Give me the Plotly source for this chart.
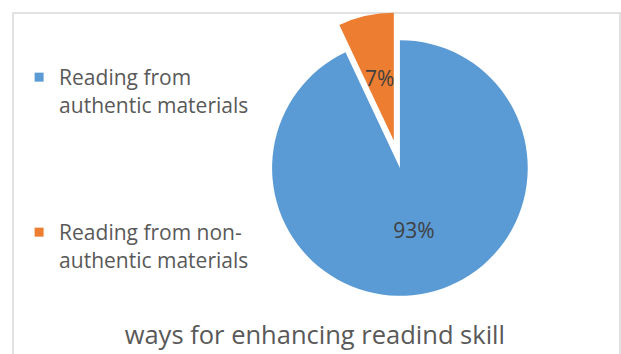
import math
import plotly.graph_objects as go

categories = ["Reading from authentic materials", "Reading from non-authentic materials"]
legend_labels = ["Reading from<br>authentic materials", "Reading from non-<br>authentic materials"]
values = [93, 7]
colors = ["#5B9BD5", "#ED7D31"]
pulls = [0, 0.22]
title_text = "ways for enhancing readind skill"

W, H = 621, 354
FONT = "Open Sans"
DOM_X = [0.39, 0.898]
DOM_Y = [0.085, 0.966]

fig = go.Figure()

fig.add_trace(go.Pie(
    labels=categories,
    values=values,
    marker=dict(colors=colors, line=dict(width=0)),
    sort=False,
    direction="clockwise",
    rotation=0,
    pull=pulls,
    texttemplate="%{percent:.0%}",
    textposition=["inside", "none"],
    insidetextorientation="horizontal",
    textfont=dict(family=FONT, size=21, color="#404040"),
    domain=dict(x=DOM_X, y=DOM_Y),
    showlegend=False,
    hoverinfo="label+percent",
))

# label for the thin pulled slice, placed at mid-radius along its bisector
total = sum(values)
cx = (DOM_X[0] + DOM_X[1]) / 2 * W
box_h = (DOM_Y[1] - DOM_Y[0]) * H
cy_top = (1 - DOM_Y[1]) * H + box_h / 2
r = box_h / (2 * (1 + max(pulls)))
start = sum(values[:1]) / total
mid = (start + values[1] / total / 2) * 2 * math.pi
d = pulls[1] * r + 0.5 * r
lx = cx + math.sin(mid) * d
ly = cy_top - math.cos(mid) * d
annotations = [dict(
    text=f"{round(100 * values[1] / total)}%", x=lx / W, y=1 - ly / H,
    xref="paper", yref="paper", showarrow=False,
    xanchor="center", yanchor="middle",
    font=dict(family=FONT, size=21, color="#404040"),
)]

# legend proxies, one per slice, each in its own legend box
legend_names = ["legend", "legend2"]
for name, lab, col in zip(legend_names, legend_labels, colors):
    fig.add_trace(go.Scatter(
        x=[None], y=[None], mode="markers", name=lab,
        marker=dict(symbol="square", size=9, color=col),
        legend=name, showlegend=True,
    ))

leg_common = dict(
    font=dict(family=FONT, size=21, color="#595959"),
    bgcolor="rgba(0,0,0,0)", borderwidth=0,
    xanchor="left", yanchor="top", valign="top",
    itemclick=False, itemdoubleclick=False,
)

fig.update_layout(
    width=W, height=H,
    margin=dict(l=0, r=0, t=0, b=0),
    paper_bgcolor="white", plot_bgcolor="white",
    xaxis=dict(visible=False), yaxis=dict(visible=False),
    legend=dict(x=16 / W + 0.005, y=1 - 57 / H, **leg_common),
    legend2=dict(x=16 / W + 0.005, y=1 - 212 / H, **leg_common),
    title=dict(text=title_text, x=0.507, xanchor="center", y=1 - 335 / H,
               yanchor="middle", yref="paper",
               font=dict(family=FONT, size=25.5, color="#595959")),
    annotations=annotations,
    shapes=[dict(type="rect", xref="paper", yref="paper",
                 x0=13 / W, x1=620 / W, y0=-0.2, y1=1 - 13 / H,
                 line=dict(color="#D9D9D9", width=1.5), layer="below")],
)

fig.write_html("out.html")
